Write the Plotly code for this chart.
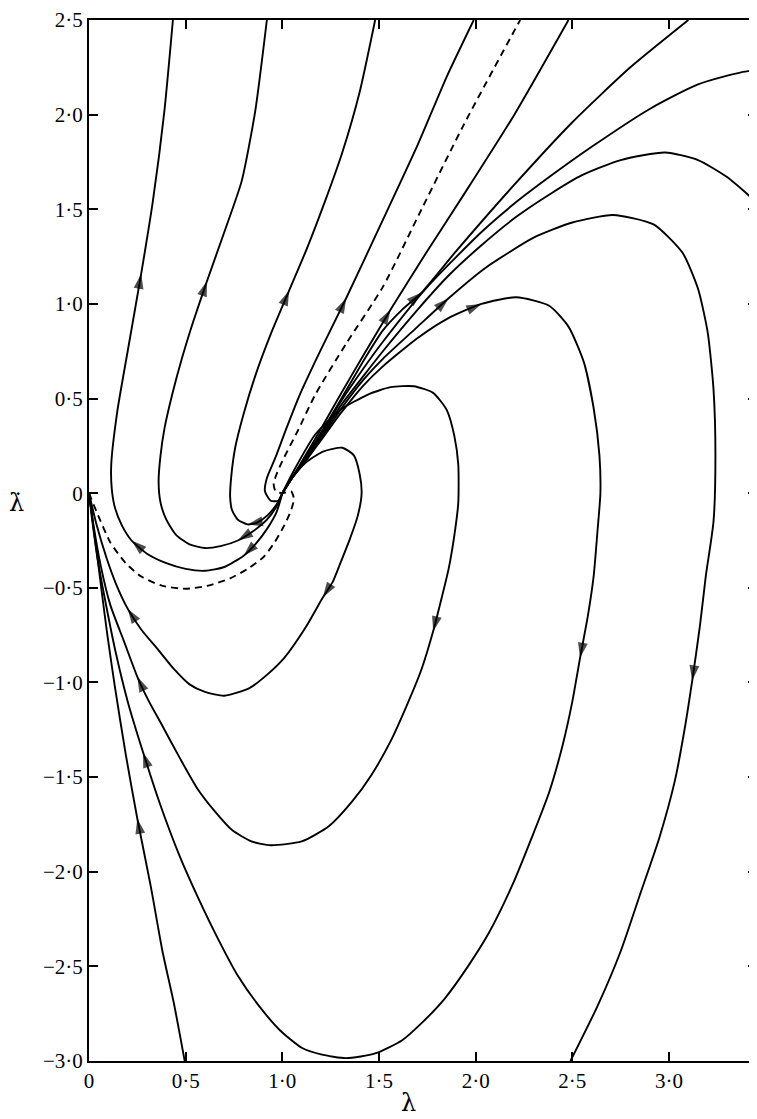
import plotly.graph_objects as go

# ---------------- data (lambda, lambda-dot) ----------------
tick_x = [0, 0.5, 1.0, 1.5, 2.0, 2.5, 3.0]
tick_x_text = ["0", "0·5", "1·0", "1·5", "2·0", "2·5", "3·0"]
tick_y = [-3.0, -2.5, -2.0, -1.5, -1.0, -0.5, 0, 0.5, 1.0, 1.5, 2.0, 2.5]
tick_y_text = ["−3·0", "−2·5", "−2·0", "−1·5", "−1·0", "−0·5", "0", "0·5", "1·0", "1·5", "2·0", "2·5"]

# trajectories leaving the focus, ending at the top edge
u1_x = [1.0, 0.97, 0.92, 0.86, 0.80, 0.70, 0.60, 0.50, 0.40, 0.30, 0.22, 0.17, 0.135, 0.118, 0.115, 0.146, 0.20, 0.27, 0.33, 0.39, 0.434]
u1_y = [0.0, -0.10, -0.19, -0.27, -0.33, -0.39, -0.41, -0.40, -0.37, -0.32, -0.25, -0.17, -0.08, 0.02, 0.15, 0.43, 0.75, 1.16, 1.54, 2.02, 2.5]
u1_arrows = [4, 10, 17]

u2_x = [1.0, 0.97, 0.92, 0.85, 0.77, 0.68, 0.60, 0.52, 0.45, 0.40, 0.37, 0.36, 0.37, 0.39, 0.43, 0.48, 0.54, 0.61, 0.70, 0.79, 0.86, 0.92]
u2_y = [0.0, -0.07, -0.14, -0.20, -0.25, -0.28, -0.29, -0.27, -0.22, -0.14, -0.05, 0.06, 0.20, 0.34, 0.52, 0.71, 0.91, 1.12, 1.38, 1.65, 2.02, 2.5]
u2_arrows = [4, 17]

u3_x = [1.0, 0.97, 0.92, 0.87, 0.82, 0.77, 0.74, 0.73, 0.735, 0.756, 0.80, 0.86, 0.94, 1.035, 1.13, 1.22, 1.31, 1.40, 1.48]
u3_y = [0.0, -0.06, -0.12, -0.155, -0.165, -0.14, -0.09, -0.02, 0.08, 0.24, 0.42, 0.62, 0.84, 1.07, 1.30, 1.54, 1.80, 2.12, 2.5]
u3_arrows = [4, 13]

u4_x = [1.0, 0.98, 0.94, 0.91, 0.92, 0.965, 1.02, 1.09, 1.20, 1.33, 1.50, 1.70, 1.85, 1.99]
u4_y = [0.0, -0.04, -0.04, 0.01, 0.08, 0.19, 0.34, 0.52, 0.76, 1.03, 1.40, 1.84, 2.20, 2.5]
u4_arrows = [9]

u5_x = [1.0, 1.05, 1.12, 1.20, 1.30, 1.42, 1.56, 1.75, 1.94, 2.20, 2.48]
u5_y = [0.0, 0.08, 0.20, 0.34, 0.52, 0.73, 0.97, 1.28, 1.58, 2.00, 2.5]
u5_arrows = [6]

u6_x = [1.0, 1.05, 1.12, 1.20, 1.30, 1.42, 1.52, 1.62, 1.72, 1.90, 2.20, 2.50, 2.80, 3.10]
u6_y = [0.0, 0.08, 0.19, 0.32, 0.49, 0.70, 0.86, 0.97, 1.06, 1.28, 1.63, 1.96, 2.25, 2.5]
u6_arrows = [8]

# trajectories leaving the focus, leaving through the right edge
u7_x = [1.0, 1.05, 1.12, 1.20, 1.30, 1.42, 1.52, 1.75, 2.03, 2.20, 2.38, 2.60, 2.90, 3.15, 3.41, 3.46]
u7_y = [0.0, 0.08, 0.19, 0.31, 0.48, 0.66, 0.80, 1.09, 1.38, 1.53, 1.67, 1.83, 2.03, 2.16, 2.23, 2.22]
u7_arrows = []

u8_x = [1.0, 1.05, 1.12, 1.20, 1.30, 1.42, 1.52, 1.70, 1.86, 2.03, 2.21, 2.40, 2.55, 2.75, 2.98, 3.15, 3.30, 3.46]
u8_y = [0.0, 0.08, 0.18, 0.30, 0.46, 0.62, 0.75, 0.97, 1.15, 1.31, 1.46, 1.59, 1.68, 1.76, 1.80, 1.76, 1.67, 1.53]
u8_arrows = []

# spiral trajectories: focus -> right -> bottom
s1_x = [1.0, 1.05, 1.12, 1.20, 1.30, 1.42, 1.52, 1.70, 1.86, 2.05, 2.30, 2.50, 2.71, 2.92, 3.07, 3.15, 3.20, 3.23, 3.24, 3.23, 3.19, 3.16, 3.12, 3.08, 3.03, 2.95, 2.85, 2.75, 2.63, 2.49]
s1_y = [0.0, 0.08, 0.17, 0.29, 0.44, 0.60, 0.71, 0.88, 1.03, 1.19, 1.35, 1.43, 1.47, 1.42, 1.27, 1.08, 0.85, 0.55, 0.20, -0.15, -0.44, -0.70, -0.99, -1.25, -1.52, -1.82, -2.12, -2.42, -2.71, -3.0]
s1_arrows = [8, 22]

# spiral trajectories: focus -> right -> bottom -> origin
s2_x = [1.0, 1.05, 1.12, 1.20, 1.30, 1.42, 1.52, 1.70, 1.85, 2.03, 2.21, 2.38, 2.48, 2.56, 2.61, 2.64, 2.645, 2.63, 2.61, 2.58, 2.54, 2.50, 2.45, 2.38, 2.29, 2.19, 2.07, 1.96, 1.84, 1.72, 1.62, 1.48, 1.33, 1.20, 1.10, 0.99, 0.88, 0.77, 0.67, 0.57, 0.47, 0.37, 0.28, 0.20, 0.14, 0.09, 0.045, 0.015, 0.0]
s2_y = [0.0, 0.08, 0.17, 0.28, 0.42, 0.57, 0.67, 0.82, 0.92, 1.00, 1.035, 0.99, 0.88, 0.69, 0.45, 0.20, 0.0, -0.20, -0.44, -0.65, -0.87, -1.10, -1.33, -1.58, -1.82, -2.07, -2.32, -2.50, -2.67, -2.80, -2.89, -2.96, -2.985, -2.965, -2.93, -2.84, -2.71, -2.55, -2.36, -2.15, -1.92, -1.65, -1.37, -1.10, -0.85, -0.60, -0.35, -0.13, 0.0]
s2_arrows = [9, 20, 42]

s3_x = [1.0, 1.06, 1.17, 1.30, 1.44, 1.56, 1.68, 1.78, 1.85, 1.89, 1.91, 1.91, 1.89, 1.86, 1.82, 1.78, 1.72, 1.64, 1.56, 1.46, 1.36, 1.24, 1.10, 0.94, 0.84, 0.74, 0.65, 0.56, 0.47, 0.38, 0.31, 0.25, 0.18, 0.11, 0.06, 0.025, 0.0]
s3_y = [0.0, 0.12, 0.31, 0.44, 0.52, 0.56, 0.565, 0.53, 0.44, 0.30, 0.15, -0.05, -0.22, -0.40, -0.57, -0.73, -0.93, -1.13, -1.31, -1.49, -1.63, -1.76, -1.84, -1.86, -1.84, -1.78, -1.68, -1.56, -1.40, -1.23, -1.10, -0.97, -0.78, -0.59, -0.38, -0.18, 0.0]
s3_arrows = [15, 31]

s4_x = [1.0, 1.05, 1.12, 1.21, 1.31, 1.37, 1.40, 1.41, 1.39, 1.35, 1.30, 1.26, 1.21, 1.12, 1.01, 0.92, 0.83, 0.70, 0.60, 0.52, 0.44, 0.36, 0.27, 0.20, 0.14, 0.09, 0.04, 0.0]
s4_y = [0.0, 0.08, 0.16, 0.22, 0.24, 0.20, 0.10, 0.0, -0.12, -0.24, -0.37, -0.47, -0.55, -0.71, -0.87, -0.96, -1.03, -1.07, -1.05, -1.01, -0.93, -0.83, -0.72, -0.61, -0.48, -0.34, -0.17, 0.0]
s4_arrows = [12, 23]

# trajectory from the bottom edge into the origin
b1_x = [0.495, 0.44, 0.38, 0.32, 0.25, 0.19, 0.135, 0.095, 0.067, 0.035, 0.0]
b1_y = [-3.0, -2.70, -2.42, -2.08, -1.72, -1.38, -1.03, -0.75, -0.53, -0.27, 0.0]
b1_arrows = [4]

# separatrix (dashed)
sep_x = [0.0, 0.04, 0.11, 0.19, 0.27, 0.38, 0.50, 0.61, 0.73, 0.82, 0.90, 0.96, 1.01, 1.045, 1.06, 1.045, 1.0, 0.965, 0.955, 0.97, 1.0, 1.08, 1.17, 1.33, 1.52, 1.72, 1.94, 2.23]
sep_y = [0.0, -0.10, -0.26, -0.37, -0.44, -0.49, -0.505, -0.49, -0.45, -0.40, -0.34, -0.26, -0.17, -0.09, -0.03, 0.01, 0.0, 0.01, 0.05, 0.10, 0.17, 0.33, 0.52, 0.79, 1.09, 1.50, 1.95, 2.5]

solid_curves = [
    (u1_x, u1_y, u1_arrows), (u2_x, u2_y, u2_arrows), (u3_x, u3_y, u3_arrows),
    (u4_x, u4_y, u4_arrows), (u5_x, u5_y, u5_arrows), (u6_x, u6_y, u6_arrows),
    (u7_x, u7_y, u7_arrows), (u8_x, u8_y, u8_arrows), (s1_x, s1_y, s1_arrows),
    (s2_x, s2_y, s2_arrows), (s3_x, s3_y, s3_arrows), (s4_x, s4_y, s4_arrows),
    (b1_x, b1_y, b1_arrows),
]

TICK_FONT = "Liberation Serif"
TITLE_FONT = "DejaVu Serif"
fig = go.Figure()

for xs, ys, arrows in solid_curves:
    sizes = [16 if i in arrows else 0 for i in range(len(xs))]
    fig.add_trace(go.Scatter(
        x=xs, y=ys, mode="lines+markers",
        line=dict(color="black", width=1.9, shape="spline", smoothing=0.6),
        marker=dict(symbol="arrow", size=sizes, color="black", angleref="previous",
                    line=dict(width=0)),
        showlegend=False, hoverinfo="skip", cliponaxis=True,
    ))

# dashed separatrix, drawn on the overlaid axis (same range) that carries the right-hand ticks
fig.add_trace(go.Scatter(
    x=sep_x, y=sep_y, mode="lines", yaxis="y2",
    line=dict(color="black", width=1.9, dash="7px,5px", shape="spline", smoothing=0.6),
    showlegend=False, hoverinfo="skip",
))

axis_common = dict(
    showgrid=False, zeroline=False, ticks="inside", ticklen=9, tickwidth=2,
    tickcolor="black", tickfont=dict(family=TICK_FONT, size=21, color="black"),
    ticklabeloverflow="allow",
)

# the page body keeps an 8px default margin, so the figure is offset to fit inside it
fig.update_layout(
    width=749, height=1111,
    margin=dict(l=81, r=0, t=9, b=58),
    paper_bgcolor="white", plot_bgcolor="white",
    font=dict(family=TICK_FONT, color="black"),
    xaxis=dict(range=[0, 3.455], tickmode="array", tickvals=tick_x, ticktext=tick_x_text,
               showline=True, linecolor="black", linewidth=2, mirror="ticks", **axis_common),
    yaxis=dict(range=[-3.0, 2.5], tickmode="array", tickvals=tick_y, ticktext=tick_y_text,
               showline=True, linecolor="black", linewidth=2, mirror=False, **axis_common),
    yaxis2=dict(range=[-3.0, 2.5], overlaying="y", side="right", anchor="x", tickmode="array",
                tickvals=tick_y, showticklabels=False, showline=False, **axis_common),
    annotations=[
        dict(text="λ", xref="paper", yref="paper", x=0.478, y=-0.040, showarrow=False,
             font=dict(family=TITLE_FONT, size=24, color="black"), xanchor="center", yanchor="middle"),
        dict(text="λ̇", xref="paper", yref="paper", x=-0.108, y=0.536, showarrow=False,
             font=dict(family=TITLE_FONT, size=24, color="black"), xanchor="center", yanchor="middle"),
    ],
)

fig.write_html("out.html")
